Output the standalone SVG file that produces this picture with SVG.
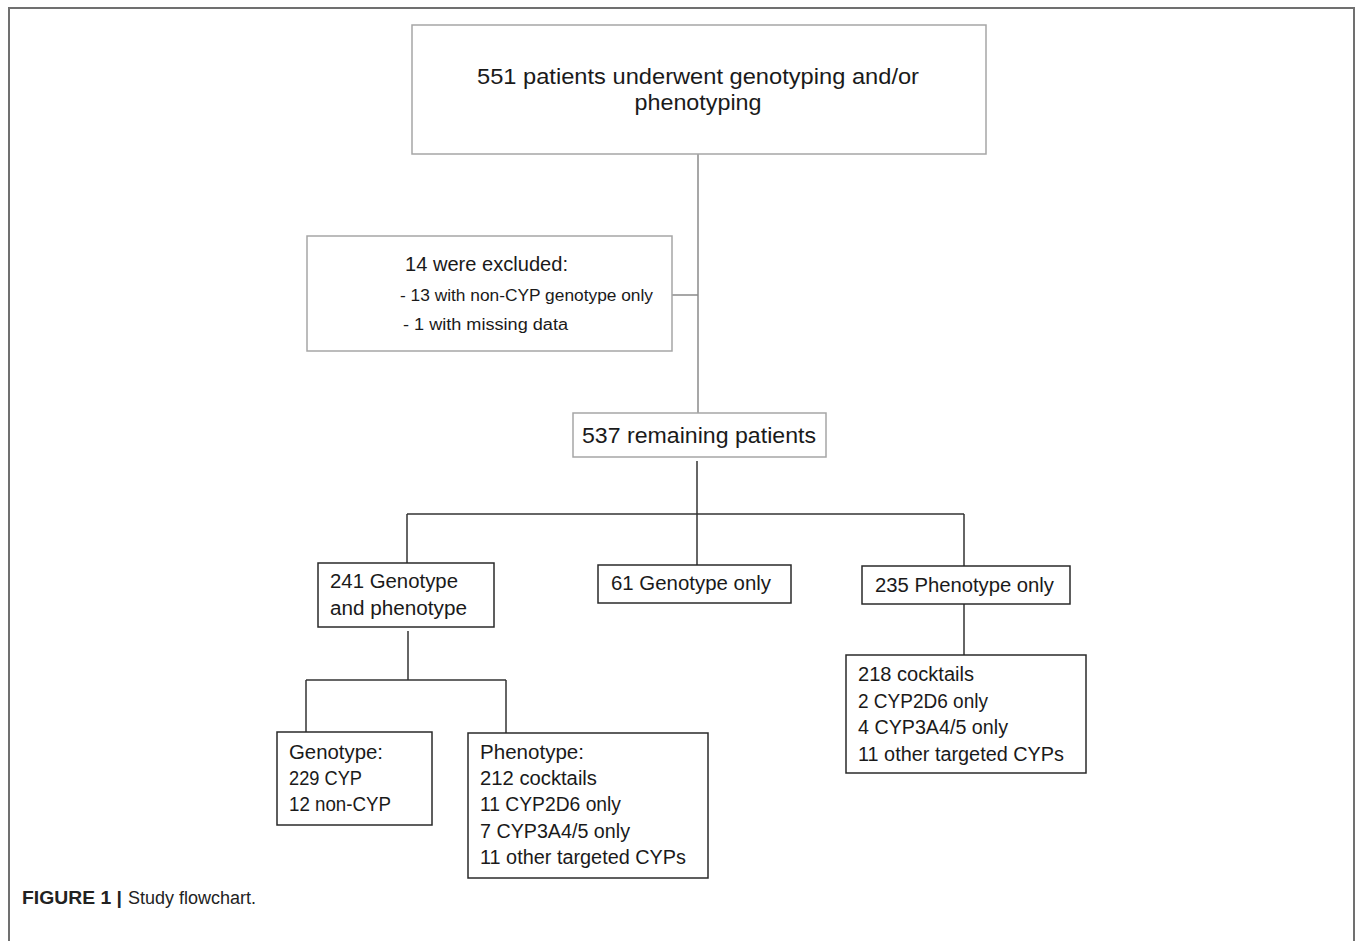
<svg xmlns="http://www.w3.org/2000/svg" width="1357" height="941" viewBox="0 0 1357 941">
<style>
.bg{fill:#fff}
.frame{fill:none;stroke:#707070;stroke-width:2}
.boxg{fill:#fff;stroke:#a6a6a6;stroke-width:1.5}
.boxd{fill:#fff;stroke:#2a2a2a;stroke-width:1.5}
.cg{fill:none;stroke:#8a8a8a;stroke-width:1.5}
.cd{fill:none;stroke:#333;stroke-width:1.5}
text{font-family:"Liberation Sans",Arial,sans-serif;fill:#1a1a1a}
.t22{font-size:22px}
.t20{font-size:20px}
.t16{font-size:16px}
.cap{font-size:18px;fill:#222}
</style>
<rect class="bg" x="0" y="0" width="1357" height="941"/>
<path class="frame" d="M9,945 V8 H1354 V945"/>
<g id="connectors">
<path class="cg" d="M698,154 V413"/>
<path class="cg" d="M672,295 H698"/>
<path class="cd" d="M697,461 V565"/>
<path class="cd" d="M407,514 H964"/>
<path class="cd" d="M407,514 V563"/>
<path class="cd" d="M964,514 V566"/>
<path class="cd" d="M964,604 V655"/>
<path class="cd" d="M408,631 V680"/>
<path class="cd" d="M306,680 H506"/>
<path class="cd" d="M306,680 V732"/>
<path class="cd" d="M506,680 V733"/>
</g>
<g id="n_start">
<rect class="boxg" x="412" y="25" width="574" height="129"/>
<text class="t22" x="698" y="84" text-anchor="middle" textLength="442" lengthAdjust="spacingAndGlyphs">551 patients underwent  genotyping and/or</text>
<text class="t22" x="698" y="110" text-anchor="middle" textLength="127" lengthAdjust="spacingAndGlyphs">phenotyping</text>
</g>
<g id="n_excluded">
<rect class="boxg" x="307" y="236" width="365" height="115"/>
<text class="t20" x="405" y="271" textLength="163" lengthAdjust="spacingAndGlyphs">14 were excluded:</text>
<text class="t16" x="400" y="301" textLength="253" lengthAdjust="spacingAndGlyphs">- 13 with non-CYP genotype only</text>
<text class="t16" x="403" y="330" textLength="165" lengthAdjust="spacingAndGlyphs">- 1 with missing data</text>
</g>
<g id="n_remaining">
<rect class="boxg" x="573" y="413" width="253" height="44"/>
<text class="t22" x="582" y="443" textLength="234" lengthAdjust="spacingAndGlyphs">537 remaining patients</text>
</g>
<g id="n_both">
<rect class="boxd" x="318" y="563" width="176" height="64"/>
<text class="t20" x="330" y="588" textLength="128" lengthAdjust="spacingAndGlyphs">241 Genotype</text>
<text class="t20" x="330" y="615" textLength="137" lengthAdjust="spacingAndGlyphs">and phenotype</text>
</g>
<g id="n_genoonly">
<rect class="boxd" x="598" y="565" width="193" height="38"/>
<text class="t20" x="611" y="590" textLength="160" lengthAdjust="spacingAndGlyphs">61 Genotype only</text>
</g>
<g id="n_phenoonly">
<rect class="boxd" x="862" y="566" width="208" height="38"/>
<text class="t20" x="875" y="592" textLength="179" lengthAdjust="spacingAndGlyphs">235 Phenotype only</text>
</g>
<g id="n_phenoonly_detail">
<rect class="boxd" x="846" y="655" width="240" height="118"/>
<text class="t20" x="858" y="681" textLength="116" lengthAdjust="spacingAndGlyphs">218 cocktails</text>
<text class="t20" x="858" y="708" textLength="130" lengthAdjust="spacingAndGlyphs">2 CYP2D6 only</text>
<text class="t20" x="858" y="734" textLength="150" lengthAdjust="spacingAndGlyphs">4 CYP3A4/5 only</text>
<text class="t20" x="858" y="761" textLength="206" lengthAdjust="spacingAndGlyphs">11 other targeted CYPs</text>
</g>
<g id="n_genotype">
<rect class="boxd" x="277" y="732" width="155" height="93"/>
<text class="t20" x="289" y="759" textLength="94" lengthAdjust="spacingAndGlyphs">Genotype:</text>
<text class="t20" x="289" y="785" textLength="73" lengthAdjust="spacingAndGlyphs">229 CYP</text>
<text class="t20" x="289" y="811" textLength="102" lengthAdjust="spacingAndGlyphs">12 non-CYP</text>
</g>
<g id="n_phenotype">
<rect class="boxd" x="468" y="733" width="240" height="145"/>
<text class="t20" x="480" y="759" textLength="104" lengthAdjust="spacingAndGlyphs">Phenotype:</text>
<text class="t20" x="480" y="785" textLength="117" lengthAdjust="spacingAndGlyphs">212 cocktails</text>
<text class="t20" x="480" y="811" textLength="141" lengthAdjust="spacingAndGlyphs">11 CYP2D6 only</text>
<text class="t20" x="480" y="838" textLength="150" lengthAdjust="spacingAndGlyphs">7 CYP3A4/5 only</text>
<text class="t20" x="480" y="864" textLength="206" lengthAdjust="spacingAndGlyphs">11 other targeted CYPs</text>
</g>
<g id="caption">
<text class="cap" x="22" y="904" font-weight="bold" textLength="100" lengthAdjust="spacingAndGlyphs">FIGURE 1 |</text>
<text class="cap" x="128" y="904" textLength="128" lengthAdjust="spacingAndGlyphs">Study flowchart.</text>
</g>
</svg>
